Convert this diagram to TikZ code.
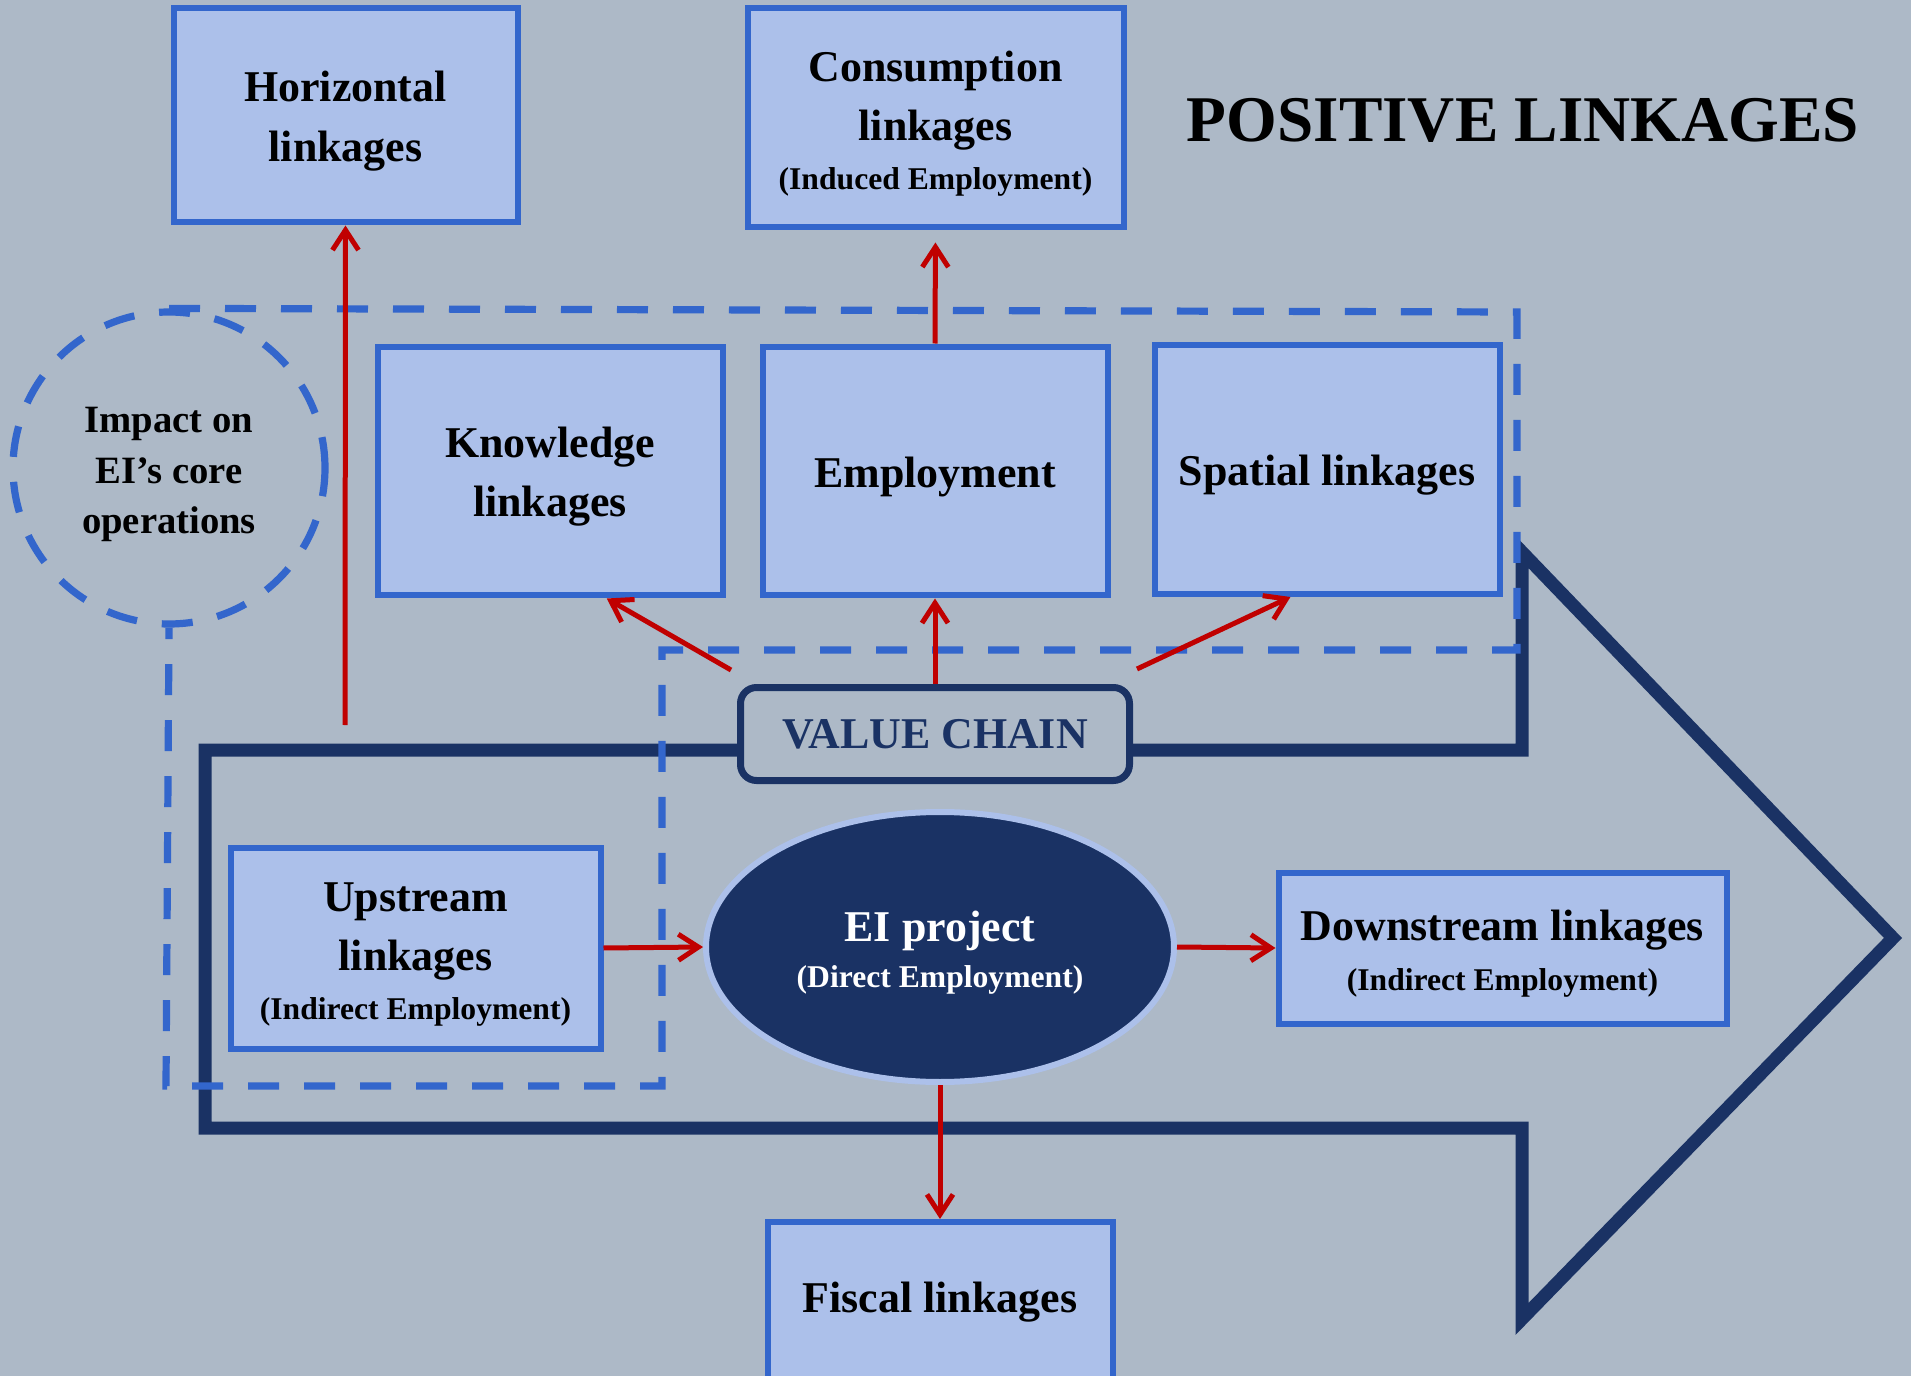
\documentclass[tikz,border=0pt]{standalone}
\usepackage{fontspec}
\setmainfont{Liberation Serif}
\usetikzlibrary{arrows.meta,shapes.geometric}
\definecolor{bgcol}{HTML}{ADB9C7}
\definecolor{boxfill}{HTML}{ACC0EA}
\definecolor{boxline}{HTML}{3366CC}
\definecolor{navy}{HTML}{1A3264}
\definecolor{linkred}{HTML}{C00000}
% extra room above the first line, so that the text sits a little lower
\newcommand\lifttext{\rule{0pt}{\dimexpr0.68em+3.4pt\relax}}
\newcommand\subtext[1]{{\fontsize{9}{12}\selectfont #1}}
\begin{document}
\begin{tikzpicture}[x=0.1mm,y=-0.1mm,
  linkbox/.style={draw=boxline,fill=boxfill,line width=0.6mm,align=center,inner sep=0pt,
    minimum width=34.5mm,minimum height=24.9mm,font=\bfseries\fontsize{12.5}{17}\selectfont},
  dashline/.style={draw=boxline,line width=0.72mm,dash pattern=on 3.1mm off 2.5mm},
  redarrow/.style={draw=linkred,line width=0.5mm,-{Straight Barb[length=2mm,width=2.6mm]}}]
\useasboundingbox (0,0) rectangle (1911,1376);
\fill[bgcol] (0,0) rectangle (1911,1376);
% big value chain arrow
\draw[navy,line width=1.3mm,line join=miter] (205,750) -- (1522,750) -- (1522,552) -- (1893,938)
  -- (1522,1319) -- (1522,1128) -- (205,1128) -- cycle;
% title
\node[font=\bfseries\fontsize{18.55}{22}\selectfont] (title) at (1523,120) {POSITIVE LINKAGES};
% top row
\node[linkbox,minimum width=34.4mm,minimum height=21.4mm] (horiz) at (345.5,115.5) {\lifttext Horizontal\\linkages};
\node[linkbox,minimum width=37.6mm,minimum height=21.9mm] (cons) at (935.5,118)
  {\lifttext Consumption\\linkages\\[-3pt]\subtext{(Induced Employment)}};
% dashed zone of the core operations
\node[dashline,circle,minimum size=31.2mm,inner sep=0pt,align=center,
  font=\bfseries\fontsize{11}{14.5}\selectfont] (impact) at (169,468) {\lifttext Impact on\\EI's core\\operations};
\draw[dashline] (impact.north) -- (1517,312) -- (1517,650) -- (662,650) -- (662,1086)
  -- (166,1086) -- (impact.south);
\node[linkbox] (know) at (550,471) {\lifttext Knowledge\\linkages};
\node[linkbox] (emp) at (935,471) {\lifttext Employment};
\node[linkbox] (spat) at (1327,469.5) {\lifttext Spatial linkages};
% value chain
\node[draw=navy,fill=bgcol,line width=0.7mm,rounded corners=1.6mm,minimum width=38.9mm,
  minimum height=9.3mm,text=navy,font=\bfseries\fontsize{12.5}{15}\selectfont] (vc) at (935,734) {VALUE CHAIN};
\node[linkbox,minimum width=37mm,minimum height=20.1mm] (up) at (415.5,948)
  {\lifttext Upstream\\linkages\\[-3pt]\subtext{(Indirect Employment)}};
\node[ellipse,draw=boxfill,fill=navy,line width=0.6mm,minimum width=46.8mm,minimum height=27mm,
  text=white,align=center,font=\bfseries\fontsize{12.5}{16}\selectfont] (ei) at (940,947)
  {\lifttext EI project\\[-3pt]\subtext{(Direct Employment)}};
\node[linkbox,minimum width=44.8mm,minimum height=15.1mm] (down) at (1502.5,948)
  {\lifttext Downstream linkages\\[-3pt]\subtext{(Indirect Employment)}};
\node[linkbox,minimum height=16mm] (fisc) at (940,1302) {Fiscal linkages};
% links
\coordinate (hstart) at (345,725);
\draw[redarrow] (hstart) -- (horiz.south);
\draw[redarrow,shorten >=1.2mm] (emp.north) -- (cons.south);
\draw[redarrow] ([shift={(-6,-14)}]vc.north west) -- (know.-66);
\draw[redarrow] (vc.north) -- (emp.south);
\draw[redarrow] ([shift={(4,-15)}]vc.north east) -- (spat.-106);
\draw[redarrow] (up.east) -- (ei.west);
\draw[redarrow] (ei.east) -- (down.west);
\draw[redarrow] (ei.south) -- (fisc.north);
\end{tikzpicture}
\end{document}
